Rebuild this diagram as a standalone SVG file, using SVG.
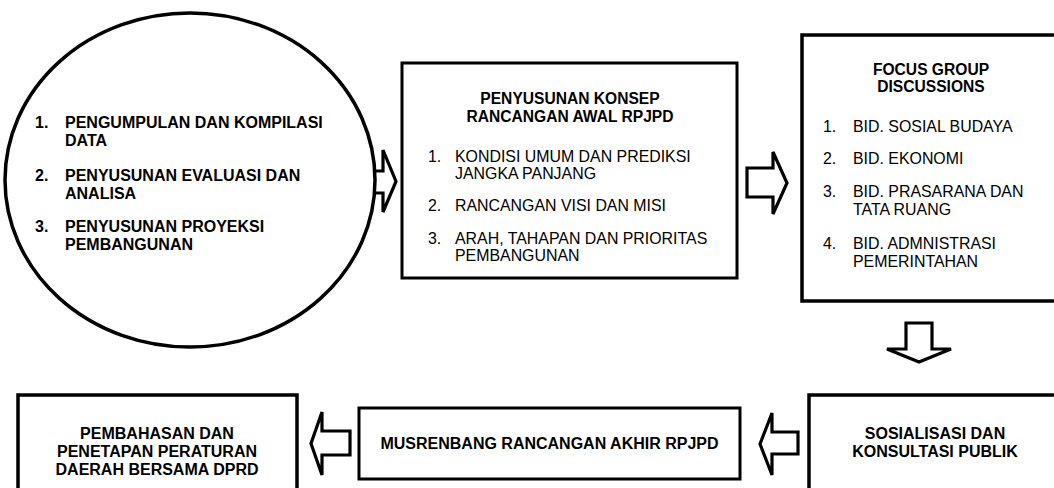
<svg xmlns="http://www.w3.org/2000/svg" width="1054" height="488" viewBox="0 0 1054 488">
<style>
.shape{fill:#fff;stroke:#000;stroke-width:3.5}
.arrow{fill:#fff;stroke:#000;stroke-width:3.2;stroke-linejoin:miter}
text{font-family:"Liberation Sans",Arial,sans-serif;fill:#000}
.b{font-weight:bold;font-size:16px}
.bt{font-weight:bold;font-size:15.6px}
.r{font-size:15.9px}
.c{text-anchor:middle}
</style>
<rect width="1054" height="488" fill="#fff"/>
<g id="connectors">
<polygon class="arrow" points="357,171 383,171 383,150 396,181.5 383,212 383,193 357,193"/>
<polygon class="arrow" points="747,168 773,168 773,152 787,183 773,214 773,197 747,197"/>
<polygon class="arrow" points="906,323 932,323 932,349 951,349 919,362 887,349 906,349"/>
<polygon class="arrow" points="350,431 322,431 322,412 311,443.5 322,475 322,455 350,455"/>
<polygon class="arrow" points="798,432 772,432 772,413 760,444 772,475 772,454 798,454"/>
</g>
<g id="node-data">
<ellipse class="shape" cx="190" cy="180" rx="185" ry="167"/>
<text class="b" x="35" y="128">1.</text>
<text class="b" x="65" y="128">PENGUMPULAN DAN KOMPILASI</text>
<text class="b" x="65" y="146">DATA</text>
<text class="b" x="35" y="181">2.</text>
<text class="b" x="65" y="181">PENYUSUNAN EVALUASI DAN</text>
<text class="b" x="65" y="199">ANALISA</text>
<text class="b" x="35" y="232">3.</text>
<text class="b" x="65" y="232">PENYUSUNAN PROYEKSI</text>
<text class="b" x="65" y="250">PEMBANGUNAN</text>
</g>
<g id="node-konsep">
<rect class="shape" x="402" y="63" width="335" height="215" style="stroke-width:3"/>
<text class="bt c" x="570" y="104">PENYUSUNAN KONSEP</text>
<text class="bt c" x="570" y="122">RANCANGAN AWAL RPJPD</text>
<text class="r" x="428" y="162">1.</text>
<text class="r" x="455" y="162">KONDISI UMUM DAN PREDIKSI</text>
<text class="r" x="455" y="179">JANGKA PANJANG</text>
<text class="r" x="428" y="211">2.</text>
<text class="r" x="455" y="211">RANCANGAN VISI DAN MISI</text>
<text class="r" x="428" y="244">3.</text>
<text class="r" x="455" y="244">ARAH, TAHAPAN DAN PRIORITAS</text>
<text class="r" x="455" y="261">PEMBANGUNAN</text>
</g>
<g id="node-fgd">
<rect class="shape" x="802" y="35" width="262" height="266"/>
<text class="bt c" x="931" y="75">FOCUS GROUP</text>
<text class="bt c" x="931" y="92">DISCUSSIONS</text>
<text class="r" x="823" y="132">1.</text>
<text class="r" x="853" y="132">BID. SOSIAL BUDAYA</text>
<text class="r" x="823" y="164">2.</text>
<text class="r" x="853" y="164">BID. EKONOMI</text>
<text class="r" x="823" y="197">3.</text>
<text class="r" x="853" y="197">BID. PRASARANA DAN</text>
<text class="r" x="853" y="215">TATA RUANG</text>
<text class="r" x="823" y="249">4.</text>
<text class="r" x="853" y="249">BID. ADMNISTRASI</text>
<text class="r" x="853" y="267">PEMERINTAHAN</text>
</g>
<g id="node-sosialisasi">
<rect class="shape" x="809" y="395" width="260" height="110"/>
<text class="b c" x="935" y="439">SOSIALISASI DAN</text>
<text class="b c" x="935" y="457">KONSULTASI PUBLIK</text>
</g>
<g id="node-musrenbang">
<rect class="shape" x="359" y="408" width="381" height="71" style="stroke-width:3"/>
<text class="b c" x="549.5" y="449">MUSRENBANG RANCANGAN AKHIR RPJPD</text>
</g>
<g id="node-pembahasan">
<rect class="shape" x="18" y="395" width="279" height="110"/>
<text class="b c" x="157" y="439">PEMBAHASAN DAN</text>
<text class="b c" x="157" y="457">PENETAPAN PERATURAN</text>
<text class="b c" x="157" y="475">DAERAH BERSAMA DPRD</text>
</g>
</svg>
